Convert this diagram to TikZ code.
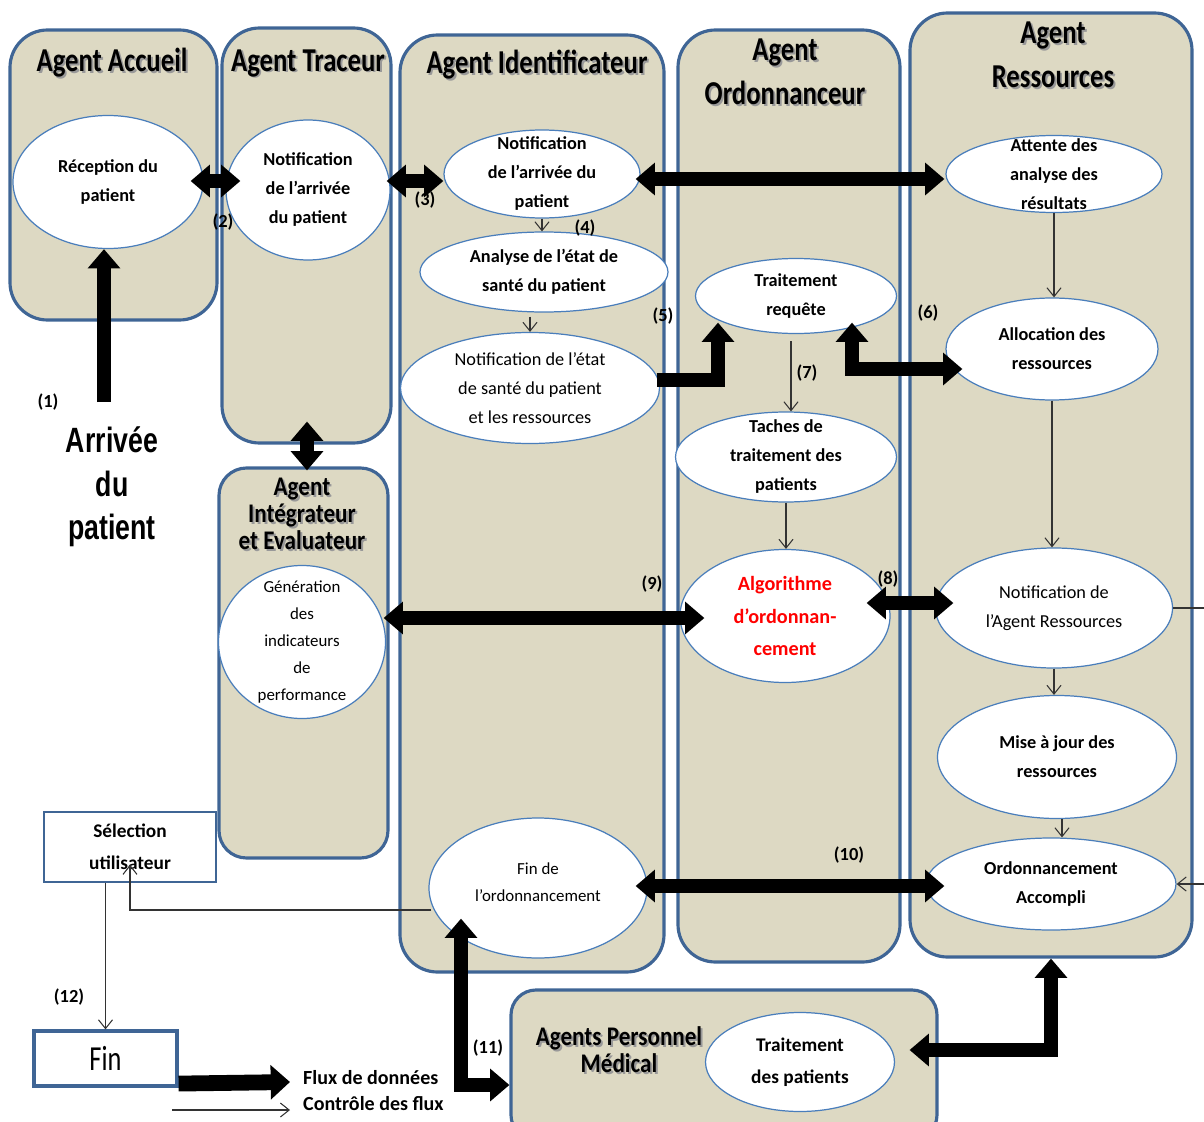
\documentclass[tikz,border=0pt]{standalone}
\usepackage{fontspec}
\setmainfont{Carlito}
\newfontfamily\titlefont[FakeStretch=0.8]{Carlito}
\newfontfamily\stitlefont[FakeStretch=0.86]{Carlito}
\newfontfamily\narrowsans[FakeStretch=0.76]{Liberation Sans}
\newfontfamily\finfont[FakeStretch=0.75]{Carlito}
\usetikzlibrary{shapes.geometric,arrows.meta,calc}
\definecolor{tanfill}{HTML}{DDD9C3}
\definecolor{boxblue}{HTML}{3F6595}
\definecolor{ellblue}{HTML}{4A7EBB}
\newcommand{\shd}[1]{\makebox[0pt][l]{\raisebox{-1.1pt}{\hspace{1.1pt}\textcolor{black!40}{#1}}}#1}
\begin{document}
\begin{tikzpicture}[x=0.02cm,y=-0.02cm,
 agent/.style 2 args={draw=boxblue,line width=1.8pt,fill=tanfill,rounded corners=0.75cm,minimum width=#1*0.02cm,minimum height=#2*0.02cm,inner sep=0pt},
 ell/.style 2 args={ellipse,draw=ellblue,line width=0.7pt,fill=white,inner sep=0pt,minimum width=#1*0.02cm,minimum height=#2*0.02cm},
 tb/.style={align=center,text=black,font=\bfseries\fontsize{10.4}{16.5}\selectfont},
 tr/.style={align=center,text=black,font=\fontsize{10.4}{16.5}\selectfont},
 trs/.style={align=center,text=black,font=\fontsize{9.6}{15.4}\selectfont},
 tbig/.style={align=center,text=black,font=\bfseries\fontsize{11}{18}\selectfont},
 redtxt/.style={align=center,text=red,font=\bfseries\fontsize{11.5}{18.7}\selectfont},
 agtitle/.style={align=center,font=\titlefont\bfseries\fontsize{19}{25}\selectfont},
 stitle/.style={align=center,font=\stitlefont\bfseries\fontsize{15.3}{15.5}\selectfont},
 lab/.style={font=\bfseries\fontsize{10.5}{12}\selectfont},
 legtxt/.style={font=\bfseries\fontsize{11.4}{14}\selectfont},
 big1/.style={line width=8pt,-{Triangle[width=18pt,length=11pt]}},
 big2/.style={line width=8pt,{Triangle[width=18pt,length=11pt]}-{Triangle[width=18pt,length=11pt]}},
 thinarr/.style={line width=0.6pt,draw=black!80,-{Straight Barb[length=5pt,width=8pt]}},
]
\useasboundingbox (0,0) rectangle (1204,1122);

% agent containers
\node[agent={207}{290}] (accbox) at (113.5,175) {};
\node[agent={169}{415}] (tracbox) at (306.5,235.5) {};
\node[agent={264}{937}] (idbox) at (532,503.5) {};
\node[agent={222}{932}] (ordbox) at (789,496) {};
\node[agent={282}{944}] (resbox) at (1051,485) {};
\node[agent={169}{390},rounded corners=0.55cm] (intbox) at (303.5,663) {};
\node[agent={426}{150},rounded corners=0.5cm] (persbox) at (724,1065) {};

% titles
\node[agtitle] (taccueil) at (112,64) {\shd{Agent Accueil}};
\node[agtitle] (ttraceur) at (308,64) {\shd{Agent Traceur}};
\node[agtitle] (tident) at (537,66) {\shd{Agent Identificateur}};
\node[agtitle] (tordo) at (785,73) {\shd{Agent}\\\shd{Ordonnanceur}};
\node[agtitle] (tres) at (1053,56) {\shd{Agent}\\\shd{Ressources}};
\node[stitle] (tint) at (302,515) {\shd{Agent}\\\shd{Intégrateur}\\\shd{et Evaluateur}};
\node[stitle] (tpers) at (619,1051) {\shd{Agents Personnel}\\\shd{Médical}};

% process ellipses
\node[ell={190}{133},label={[tb]center:Réception du\\patient}] (recep) at (108,182) {};
\node[ell={164}{140},label={[tb]center:Notification\\de l’arrivée\\du patient}] (trac) at (308,190) {};
\node[ell={196}{88},label={[tb]center:Notification\\de l’arrivée du\\patient}] (idn) at (542,174) {};
\node[ell={248}{80},label={[tb]center:Analyse de l’état de\\santé du patient}] (ana) at (544,272) {};
\node[ell={259}{111},label={[tr]center:Notification de l’état\\de santé du patient\\et les ressources}] (nes) at (530,388) {};
\node[ell={201}{75},label={[tb]center:Traitement\\requête}] (trq) at (796,296) {};
\node[ell={221}{90},label={[tb]center:Taches de\\traitement des\\patients}] (taches) at (786,457) {};
\node[ell={210}{133},label={[redtxt]center:Algorithme\\d’ordonnan-\\cement}] (algo) at (785,616) {};
\node[ell={216}{77},label={[tb]center:Attente des\\analyse des\\résultats}] (att) at (1054,174) {};
\node[ell={212}{102},label={[tb]center:Allocation des\\ressources}] (alloc) at (1052,349) {};
\node[ell={237}{120},label={[tr]center:Notification de\\l’Agent Ressources}] (nar) at (1054,608) {};
\node[ell={239}{123},label={[tb]center:Mise à jour des\\ressources}] (maj) at (1057,757) {};
\node[ell={250}{92},label={[tb]center:Ordonnancement\\Accompli}] (ordo) at (1051,884) {};
\node[ell={218}{140},label={[trs,yshift=3.5pt]center:Fin de\\l’ordonnancement}] (fdo) at (538,888) {};
\node[ell={167}{153},label={[trs]center:Génération\\des\\indicateurs\\de\\performance}] (gen) at (302,642) {};
\node[ell={189}{99},label={[tbig]center:Traitement\\des patients}] (tdp) at (800,1062) {};

% boxes
\node[draw=boxblue,line width=0.9pt,inner sep=0pt,minimum width=172*0.02cm,minimum height=70*0.02cm,align=center,font=\bfseries\fontsize{11}{18}\selectfont] (sel) at (130,847) {Sélection\\utilisateur};
\node[draw=boxblue,line width=1.8pt,inner sep=0pt,minimum width=143*0.02cm,minimum height=55*0.02cm,font=\finfont\fontsize{20}{24}\selectfont] (fin) at (105.5,1058.5) {Fin};

% arrival text
\node[align=center,font=\narrowsans\bfseries\fontsize{20}{24.7}\selectfont] (arrtxt) at (112,487) {Arrivée\\du\\patient};
\coordinate (arrstart) at (104,402);

% thick data-flow arrows
\draw[big1] (arrstart) -- (arrstart |- recep.south);
\draw[big2] ($(recep.east)+(-13,-1)$) -- ($(trac.west)+(15,-9)$);
\draw[big2] ($(trac.east)+(-4,-9)$) -- ($(idn.west)+(0,7)$);
\draw[big2] ($(idn.east)+(-5,5)$) -- ($(att.west)+(-1,5)$);
\draw[big1] ($(nes.east)+(-3.5,-8)$) -| ($(trq.south)+(-78,-11.5)$);
\draw[big2] ($(trq.south)+(56,-11.5)$) |- ($(alloc.west)+(17,20)$);
\draw[big2] ($(algo.east)+(-24,-13)$) -- ($(nar.west)+(18.5,-5)$);
\draw[big2] ($(gen.east)+(-2.5,-24)$) -- ($(algo.west)+(25,2)$);
\draw[big2] ($(tracbox.south)+(0.5,-23)$) -- ($(intbox.north)+(3.5,4)$);
\draw[big2] ($(fdo.east)+(-12,-2)$) -- ($(ordo.west)+(19,2)$);
\draw[big2] ($(fdo.south)+(-77,-40)$) |- ($(persbox.west)+(0,20)$);
\draw[big2] ($(persbox.east)+(-29,-15)$) -| (resbox.south);

% thin control arrows
\draw[thinarr] (idn.south) -- (idn.south |- ana.north);
\draw[thinarr] ($(ana.south -| nes.north)+(0,4)$) -- (nes.north);
\draw[thinarr] ($(trq.south)+(-5,7)$) -- ($(taches.north)+(5,0)$);
\draw[thinarr] (taches.south) -- (taches.south |- algo.north);
\draw[thinarr] (att.south) -- (att.south |- alloc.north);
\draw[thinarr] (alloc.south) -- (alloc.south |- nar.north);
\draw[thinarr] (nar.south) -- (nar.south |- maj.north);
\draw[thinarr] ($(maj.south)+(5,0)$) -- ($(maj.south |- ordo.north)+(5,0)$);
\draw[thinarr] (nar.east) -- ++(34,0) |- (ordo.east);
\draw[thinarr] ($(fdo.west)+(3,22)$) -| ($(sel.south)+(0,-18)$);
\draw[thinarr] ($(sel.south -| fin.north)$) -- (fin.north);

% legend
\coordinate (legA) at (290,1082);
\coordinate (legB0) at (172,1110);
\coordinate (legB) at (290,1110);
\draw[line width=9pt,-{Triangle[width=19pt,length=11pt]}] ($(fin.south east)+(0,-4)$) -- (legA);
\draw[thinarr] (legB0) -- (legB);
\node[legtxt,anchor=west] (lflux) at (297,1078) {Flux de données};
\node[legtxt,anchor=west] (lctrl) at (297,1104) {Contrôle des flux};

% step numbers
\node[lab] (n1) at (48,402) {(1)};
\node[lab] (n2) at (223,222) {(2)};
\node[lab] (n3) at (425,200) {(3)};
\node[lab] (n4) at (585,228) {(4)};
\node[lab] (n5) at (663,316) {(5)};
\node[lab] (n6) at (928,313) {(6)};
\node[lab] (n7) at (807,373) {(7)};
\node[lab] (n8) at (888,579) {(8)};
\node[lab] (n9) at (652,584) {(9)};
\node[lab] (n10) at (849,855) {(10)};
\node[lab] (n11) at (488,1048) {(11)};
\node[lab] (n12) at (69,997) {(12)};
\end{tikzpicture}
\end{document}
